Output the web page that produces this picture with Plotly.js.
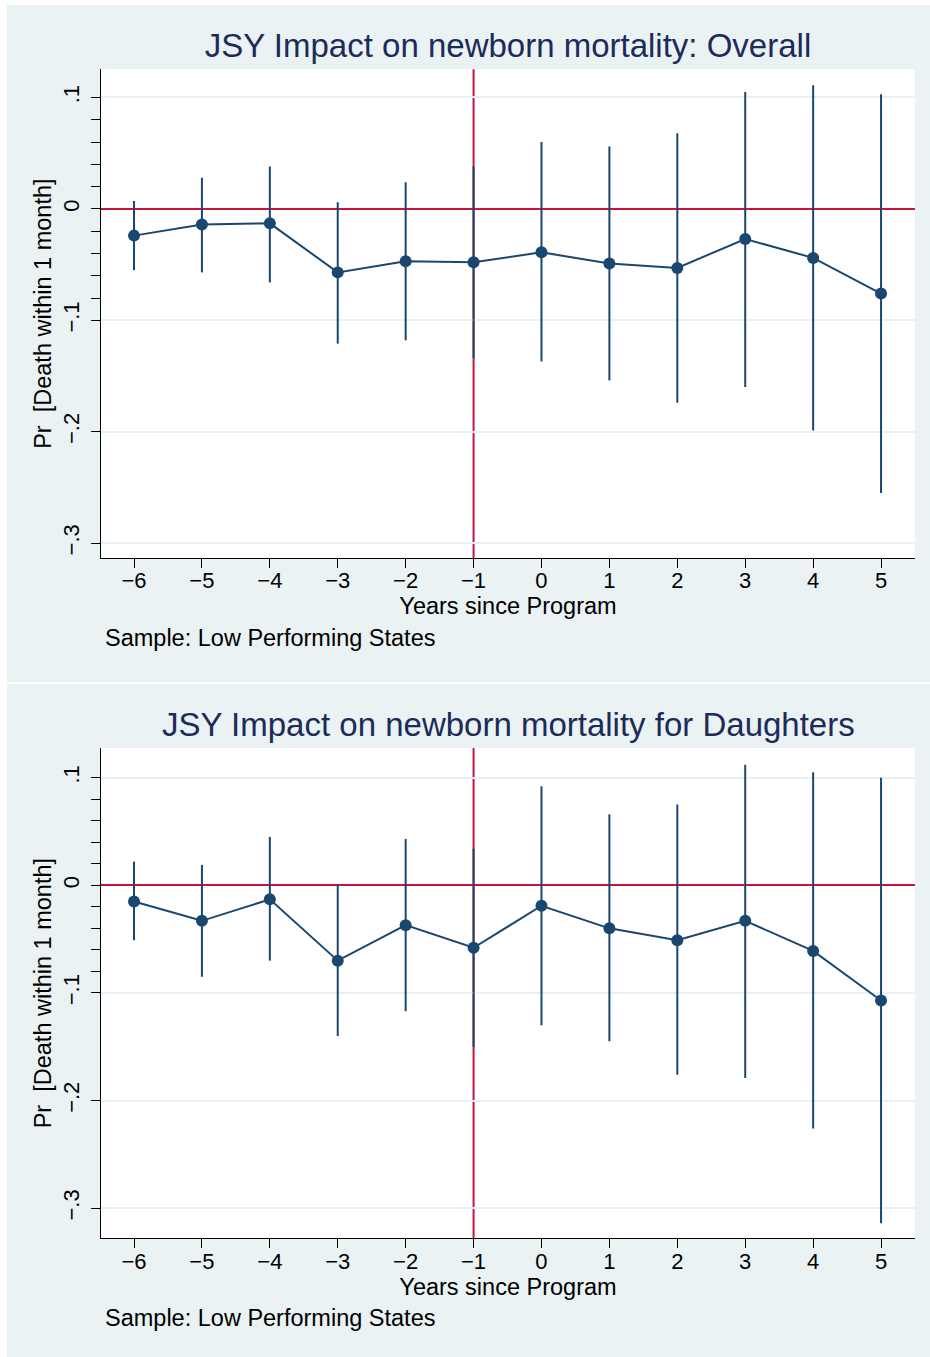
<!DOCTYPE html>
<html><head><meta charset="utf-8">
<script src="https://cdn.plot.ly/plotly-3.0.1.min.js"></script>
<style>html,body{margin:0;padding:0;background:#fff}#chart{width:930px;height:1357px}</style>
</head><body><div id="chart"></div><script>
// ---- data ----
const years = [-6, -5, -4, -3, -2, -1, 0, 1, 2, 3, 4, 5];
const xTickText = ['−6', '−5', '−4', '−3', '−2', '−1', '0', '1', '2', '3', '4', '5'];
const yTickVals = [-0.3, -0.2, -0.1, 0, 0.1];
const yTickText = ['−.3', '−.2', '−.1', '0', '.1'];
const yMinorVals = [-0.08, -0.06, -0.04, -0.02, 0.02, 0.04, 0.06, 0.08];

const overallCoef = [-0.024, -0.014, -0.013, -0.057, -0.047, -0.048, -0.039, -0.049, -0.053, -0.027, -0.044, -0.076];
const overallLow  = [-0.055, -0.057, -0.066, -0.121, -0.118, -0.134, -0.137, -0.154, -0.174, -0.160, -0.199, -0.255];
const overallHigh = [0.007, 0.028, 0.038, 0.006, 0.024, 0.038, 0.060, 0.056, 0.068, 0.105, 0.111, 0.103];

const daughtersCoef = [-0.015, -0.033, -0.013, -0.070, -0.037, -0.058, -0.019, -0.040, -0.051, -0.033, -0.061, -0.107];
const daughtersLow  = [-0.051, -0.085, -0.070, -0.140, -0.117, -0.150, -0.130, -0.145, -0.176, -0.179, -0.226, -0.314];
const daughtersHigh = [0.022, 0.019, 0.045, 0.001, 0.043, 0.034, 0.092, 0.066, 0.075, 0.112, 0.105, 0.100];

const titleTop = 'JSY Impact on newborn mortality: Overall';
const titleBottom = 'JSY Impact on newborn mortality for Daughters';
const xTitle = 'Years since Program';
const yTitle = 'Pr  [Death within 1 month]';
const noteText = 'Sample: Low Performing States';
const programYear = -1;

// ---- layout helpers ----
const W = 930, H = 1357;
const fx = p => p / W;
const fy = p => 1 - p / H;
const navy = '#1a476f';
const red = '#c8143c';
const panelBg = '#eaf2f3';
const FONT = 'Liberation Sans, Arial, Helvetica, sans-serif';

function series(xa, ya, coef, lo, hi) {
  return {
    type: 'scatter', mode: 'lines+markers', xaxis: xa, yaxis: ya,
    x: years, y: coef,
    line: {color: navy, width: 2},
    marker: {color: navy, size: 12},
    error_y: {
      type: 'data', symmetric: false,
      array: hi.map((h, i) => h - coef[i]),
      arrayminus: lo.map((l, i) => coef[i] - l),
      width: 0, thickness: 2, color: navy
    },
    showlegend: false, hoverinfo: 'x+y'
  };
}

const data = [
  series('x', 'y', overallCoef, overallLow, overallHigh),
  series('x2', 'y2', daughtersCoef, daughtersLow, daughtersHigh)
];

function xAxis(anchor) {
  return {
    domain: [fx(101), fx(915)], anchor: anchor,
    range: [-6.486, 5.5],
    tickmode: 'array', tickvals: years, ticktext: xTickText,
    ticks: 'outside', ticklen: 9, tickwidth: 1, tickcolor: '#000',
    ticklabelstandoff: -6,
    showline: true, linecolor: '#000', linewidth: 1,
    showgrid: false, zeroline: false,
    tickfont: {family: FONT, size: 22, color: '#000'},
    title: {text: xTitle, font: {family: FONT, size: 23.5, color: '#000'}, standoff: 5},
    automargin: true
  };
}
function yAxis(anchor, dom, rng) {
  return {
    domain: dom, anchor: anchor, range: rng,
    tickmode: 'array', tickvals: yTickVals, ticktext: yTickText,
    tickangle: -90,
    ticks: 'outside', ticklen: 9, tickwidth: 1, tickcolor: '#000',
    ticklabelstandoff: 3,
    minor: {tickmode: 'array', tickvals: yMinorVals, ticks: 'outside', ticklen: 9, tickwidth: 1, tickcolor: '#000', showgrid: false},
    showline: true, linecolor: '#000', linewidth: 1,
    showgrid: true, gridcolor: '#e9f0f3', gridwidth: 1.5,
    zeroline: true, zerolinecolor: red, zerolinewidth: 2,
    tickfont: {family: FONT, size: 22, color: '#000'},
    title: {text: yTitle, font: {family: FONT, size: 23.5, color: '#000'}, standoff: 0},
    automargin: true
  };
}

const layout = {
  width: W, height: H,
  margin: {l: 0, r: 0, t: 0, b: 0, pad: 0},
  paper_bgcolor: panelBg, plot_bgcolor: '#ffffff',
  font: {family: FONT},
  title: {
    text: titleTop, font: {family: FONT, size: 33, color: '#1c2b59'},
    x: fx(508), xref: 'paper', xanchor: 'center',
    y: fy(45), yref: 'paper', yanchor: 'middle'
  },
  xaxis: xAxis('y'),
  yaxis: yAxis('x', [fy(558), fy(69.3)], [-0.3134, 0.1253]),
  xaxis2: xAxis('y2'),
  yaxis2: yAxis('x2', [fy(1238.3), fy(748)], [-0.328, 0.1276]),
  annotations: [
    {text: titleBottom, xref: 'paper', yref: 'paper', x: fx(508), y: fy(724),
     xanchor: 'center', yanchor: 'middle', showarrow: false,
     font: {family: FONT, size: 33, color: '#1c2b59'}},
    {text: noteText, xref: 'paper', yref: 'paper', x: fx(103), y: fy(638),
     xanchor: 'left', yanchor: 'middle', showarrow: false,
     font: {family: FONT, size: 23.5, color: '#000'}},
    {text: noteText, xref: 'paper', yref: 'paper', x: fx(103), y: fy(1318),
     xanchor: 'left', yanchor: 'middle', showarrow: false,
     font: {family: FONT, size: 23.5, color: '#000'}}
  ],
  shapes: [
    // white page border strips and panel separator
    {type: 'rect', xref: 'paper', yref: 'paper', x0: 0, x1: fx(7), y0: 0, y1: 1, fillcolor: '#fff', line: {width: 0}, layer: 'below'},
    {type: 'rect', xref: 'paper', yref: 'paper', x0: 0, x1: 1, y0: fy(5), y1: 1, fillcolor: '#fff', line: {width: 0}, layer: 'below'},
    {type: 'rect', xref: 'paper', yref: 'paper', x0: 0, x1: 1, y0: fy(684), y1: fy(682), fillcolor: '#fff', line: {width: 0}, layer: 'below'},
    // program-start reference lines
    {type: 'line', xref: 'x', yref: 'y domain', x0: programYear, x1: programYear, y0: 0, y1: 1, line: {color: red, width: 2}, layer: 'below'},
    {type: 'line', xref: 'x2', yref: 'y2 domain', x0: programYear, x1: programYear, y0: 0, y1: 1, line: {color: red, width: 2}, layer: 'below'}
  ]
};

Plotly.newPlot('chart', data, layout, {displayModeBar: false, responsive: false});
</script></body></html>
